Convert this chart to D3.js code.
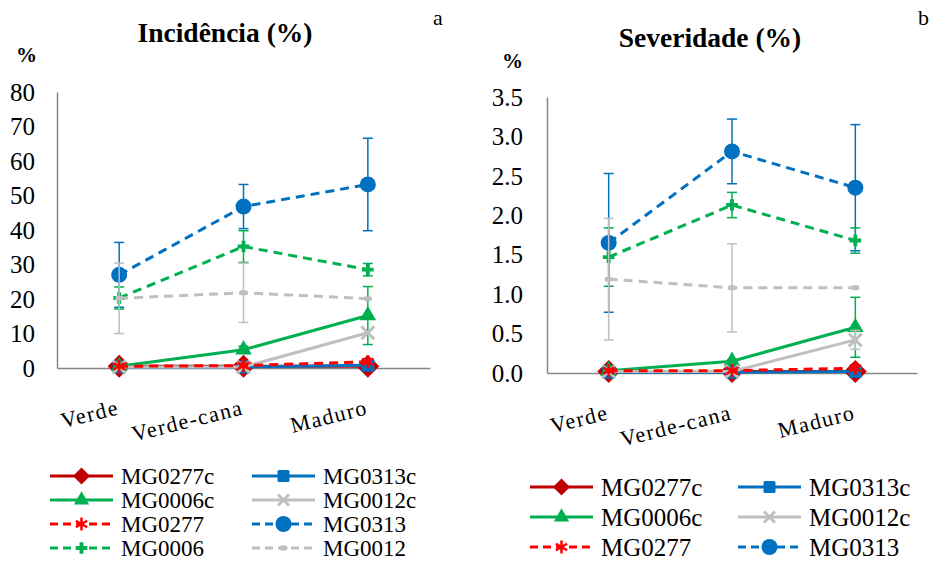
<!DOCTYPE html>
<html>
<head>
<meta charset="utf-8">
<script src="https://cdn.jsdelivr.net/npm/d3@7"></script>
</head>
<body style="margin:0;background:#fff">
<div id="chart"></div>
<script>
// categories and series
var stages = ["Verde", "Verde-cana", "Maduro"];
var seriesNames = ["MG0277c", "MG0313c", "MG0006c", "MG0012c", "MG0277", "MG0313", "MG0006", "MG0012"];

// Incidência (%) - means and error (+/-)
var incMG0277c = [0.5, 0.5, 0.5];
var incMG0313c = [0.3, 0.3, 0.8];
var incMG0006c = [0.5, 5.3, 15.2];
var incMG0012c = [0.3, 0.3, 10.2];
var incMG0277  = [0.5, 0.7, 1.8];
var incMG0313  = [27.0, 46.8, 53.2];
var incMG0006  = [20.3, 35.2, 28.5];
var incMG0012  = [20.2, 21.8, 20.1];
var incErrMG0006c = [0, 1.0, 8.4];
var incErrMG0313  = [9.4, 6.4, 13.4];
var incErrMG0006  = [3.2, 4.6, 1.8];
var incErrMG0012  = [10.2, 8.6, 0];
var incTicks = [0, 10, 20, 30, 40, 50, 60, 70, 80];

// Severidade (%)
var sevMG0277c = [0.02, 0.02, 0.02];
var sevMG0313c = [0.01, 0.01, 0.02];
var sevMG0006c = [0.03, 0.15, 0.58];
var sevMG0012c = [0.02, 0.02, 0.42];
var sevMG0277  = [0.03, 0.03, 0.06];
var sevMG0313  = [1.65, 2.81, 2.35];
var sevMG0006  = [1.47, 2.13, 1.68];
var sevMG0012  = [1.19, 1.08, 1.08];
var sevErrMG0006c = [0, 0.02, 0.38];
var sevErrMG0012c = [0, 0, 0.12];
var sevErrMG0313  = [0.88, 0.41, 0.8];
var sevErrMG0006  = [0.37, 0.16, 0.16];
var sevErrMG0012  = [0.77, 0.56, 0];
var sevTicks = [0, 0.5, 1.0, 1.5, 2.0, 2.5, 3.0, 3.5];

// look of each series
var styles = {
  MG0277c: {color: "#C00000", dash: null, marker: "diamond"},
  MG0313c: {color: "#0070C0", dash: null, marker: "square"},
  MG0006c: {color: "#00B050", dash: null, marker: "triangle"},
  MG0012c: {color: "#BFBFBF", dash: null, marker: "x"},
  MG0277:  {color: "#FF0000", dash: "9,6", marker: "star"},
  MG0313:  {color: "#0070C0", dash: "9,6", marker: "circle"},
  MG0006:  {color: "#00B050", dash: "9,6", marker: "plus"},
  MG0012:  {color: "#BFBFBF", dash: "9,6", marker: "dash"}
};

var FONT = "'Liberation Serif'";

var svg = d3.select("#chart").append("svg")
  .attr("width", 931)
  .attr("height", 562)
  .attr("font-family", "Liberation Serif")
  .style("font-family", FONT);

// text helper so every label gets the serif face
function label(g, txt, size, bold) {
  var t = g.append("text")
    .attr("font-family", "Liberation Serif")
    .style("font-family", FONT)
    .style("font-size", size + "px")
    .attr("fill", "#000")
    .text(txt);
  if (bold) t.style("font-weight", "bold");
  return t;
}

function drawMarker(g, type, color, big) {
  if (type === "diamond") {
    var r = big ? 11.5 : 8.5;
    g.append("path").attr("d", "M0," + (-r) + "L" + r + ",0L0," + r + "L" + (-r) + ",0Z")
      .attr("fill", color);
  } else if (type === "square") {
    var h = big ? 6.5 : 6;
    g.append("rect").attr("x", -h).attr("y", -h).attr("width", 2 * h).attr("height", 2 * h)
      .attr("rx", 1.5).attr("fill", color);
  } else if (type === "triangle") {
    g.append("path").attr("d", d3.symbol(d3.symbolTriangle, big ? 120 : 100)())
      .attr("fill", color);
  } else if (type === "x") {
    g.append("path").attr("d", d3.symbol(d3.symbolX, big ? 110 : 80)())
      .attr("stroke", color).attr("stroke-width", 3).attr("fill", "none");
  } else if (type === "star") {
    g.append("path").attr("d", d3.symbol(d3.symbolAsterisk, 120)())
      .attr("stroke", color).attr("stroke-width", 2.5).attr("fill", "none");
  } else if (type === "circle") {
    g.append("circle").attr("r", 8).attr("fill", color);
  } else if (type === "plus") {
    g.append("path").attr("d", d3.symbol(d3.symbolCross, 75)())
      .attr("fill", color);
  } else if (type === "dash") {
    g.append("rect").attr("x", -4).attr("y", -2.5).attr("width", 8).attr("height", 5)
      .attr("rx", 2).attr("fill", color);
  }
}

function drawPanel(p) {
  var g = svg.append("g");

  var x = d3.scaleBand().domain(stages).range([p.left, p.right]);
  var y = d3.scaleLinear().domain([0, p.ticks[p.ticks.length - 1]]).range([p.bottom, p.top]);
  var cx = function(s) { return x(s) + x.bandwidth() / 2; };

  // y axis: line only, labels drawn from the ticks
  var yAxis = g.append("g")
    .attr("transform", "translate(" + p.left + ",0)")
    .call(d3.axisLeft(y).tickValues(p.ticks).tickSize(0).tickFormat(""));
  yAxis.select(".domain").attr("stroke", "#868686").attr("stroke-width", 1.5);
  p.ticks.forEach(function(t) {
    label(g, p.fmt(t), 25, false)
      .attr("x", p.left - p.labelPad).attr("y", y(t)).attr("dy", "0.35em")
      .attr("text-anchor", "end");
  });

  // x axis
  var xAxis = g.append("g")
    .attr("transform", "translate(0," + p.bottom + ")")
    .call(d3.axisBottom(x).tickSize(0).tickFormat(""));
  xAxis.select(".domain").attr("stroke", "#868686").attr("stroke-width", 1.5);

  stages.forEach(function(s) {
    label(g, s, 22, false)
      .attr("transform", "translate(" + (cx(s) + 1) + "," + (p.bottom + 46) + ") rotate(-14)")
      .attr("text-anchor", "end")
      .style("letter-spacing", "1.5px");
  });

  // series in legend order
  p.series.forEach(function(name) {
    var st = styles[name];
    var vals = p.values[name];
    var errs = p.errors[name];
    var pts = stages.map(function(s, i) { return {s: s, v: vals[i], e: errs ? errs[i] : 0}; });

    // error bars
    pts.forEach(function(d) {
      if (!d.e) return;
      var eb = g.append("g").attr("stroke", st.color).attr("stroke-width", 1.5);
      eb.append("line").attr("x1", cx(d.s)).attr("x2", cx(d.s))
        .attr("y1", y(d.v - d.e)).attr("y2", y(d.v + d.e));
      [d.v - d.e, d.v + d.e].forEach(function(v) {
        eb.append("line").attr("x1", cx(d.s) - 5).attr("x2", cx(d.s) + 5)
          .attr("y1", y(v)).attr("y2", y(v));
      });
    });

    g.append("path")
      .datum(pts)
      .attr("fill", "none")
      .attr("stroke", st.color)
      .attr("stroke-width", 3)
      .attr("stroke-dasharray", st.dash)
      .attr("d", d3.line().x(function(d) { return cx(d.s); }).y(function(d) { return y(d.v); }));

    pts.forEach(function(d) {
      var m = g.append("g").attr("transform", "translate(" + cx(d.s) + "," + y(d.v) + ")");
      drawMarker(m, st.marker, st.color, true);
    });
  });

  // titles
  label(g, p.title, 27.5, true)
    .attr("x", p.titleX).attr("y", p.titleY)
    .attr("text-anchor", "middle");
  label(g, "%", 21, true).attr("x", p.pctX).attr("y", p.pctY);
  label(g, p.letter, 22, false).attr("x", p.letterX).attr("y", 25);

  // legend
  p.legend.forEach(function(name, i) {
    var st = styles[name];
    var col = i % 2, row = Math.floor(i / 2);
    var lx = p.legX[col], ly = p.legY + row * p.legStep;
    var lg = g.append("g").attr("transform", "translate(" + lx + "," + ly + ")");
    lg.append("line").attr("x1", 0).attr("x2", 63)
      .attr("stroke", st.color).attr("stroke-width", 3)
      .attr("stroke-dasharray", st.dash ? "8,5" : null);
    var m = lg.append("g").attr("transform", "translate(31.5,0)");
    drawMarker(m, st.marker, st.color, false);
    label(lg, name, p.legFont, false).attr("x", 71).attr("y", 0).attr("dy", "0.35em");
  });
}

drawPanel({
  left: 57, right: 430, top: 92, bottom: 368,
  ticks: incTicks, fmt: d3.format("d"), labelPad: 22,
  series: seriesNames,
  values: {MG0277c: incMG0277c, MG0313c: incMG0313c, MG0006c: incMG0006c, MG0012c: incMG0012c,
           MG0277: incMG0277, MG0313: incMG0313, MG0006: incMG0006, MG0012: incMG0012},
  errors: {MG0006c: incErrMG0006c, MG0313: incErrMG0313, MG0006: incErrMG0006, MG0012: incErrMG0012},
  title: "Incidência (%)", titleX: 225, titleY: 42,
  pctX: 16, pctY: 62, letter: "a", letterX: 433,
  legend: seriesNames, legX: [50, 252], legY: 476, legStep: 24, legFont: 23
});

drawPanel({
  left: 547, right: 917, top: 97, bottom: 373,
  ticks: sevTicks, fmt: d3.format(".1f"), labelPad: 24,
  series: seriesNames,
  values: {MG0277c: sevMG0277c, MG0313c: sevMG0313c, MG0006c: sevMG0006c, MG0012c: sevMG0012c,
           MG0277: sevMG0277, MG0313: sevMG0313, MG0006: sevMG0006, MG0012: sevMG0012},
  errors: {MG0006c: sevErrMG0006c, MG0012c: sevErrMG0012c, MG0313: sevErrMG0313,
           MG0006: sevErrMG0006, MG0012: sevErrMG0012},
  title: "Severidade (%)", titleX: 710, titleY: 47,
  pctX: 502, pctY: 68, letter: "b", letterX: 918,
  legend: seriesNames.slice(0, 6), legX: [530, 738], legY: 487, legStep: 30, legFont: 25
});
</script>
</body>
</html>
